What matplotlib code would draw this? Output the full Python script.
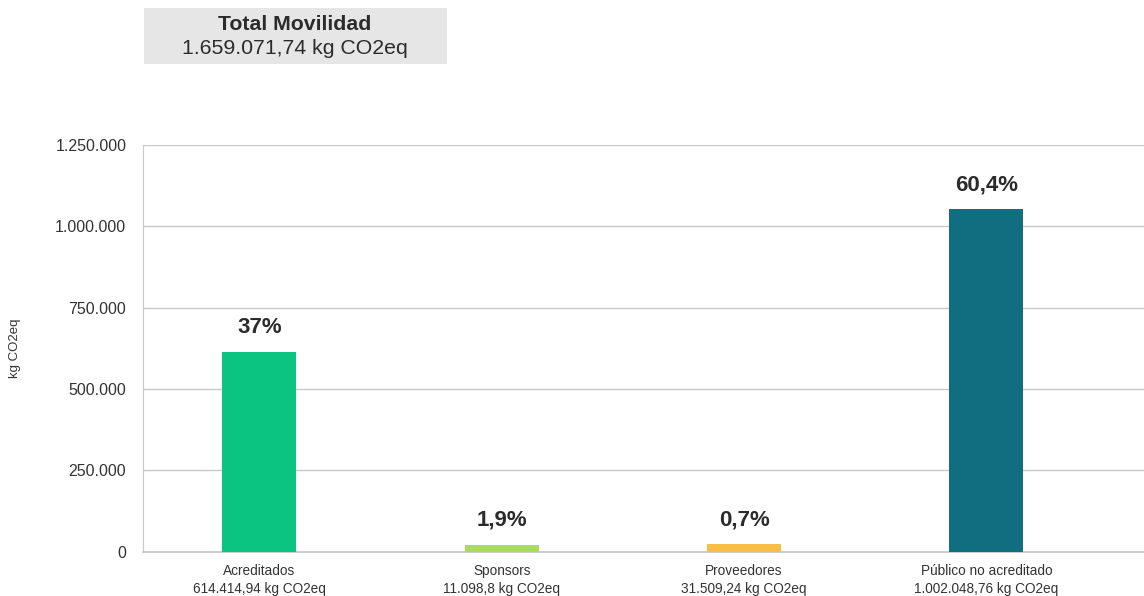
import matplotlib.pyplot as plt
from matplotlib.ticker import FuncFormatter

# data
categories = ['Acreditados', 'Sponsors', 'Proveedores', 'Público no acreditado']
value_labels = ['614.414,94 kg CO2eq', '11.098,8 kg CO2eq', '31.509,24 kg CO2eq', '1.002.048,76 kg CO2eq']
bar_values = [614415, 22000, 25000, 1053000]
pct_labels = ['37%', '1,9%', '0,7%', '60,4%']
bar_colors = ['#0cc482', '#a9db62', '#f9be45', '#116e80']
total_title = 'Total Movilidad'
total_value = '1.659.071,74 kg CO2eq'

plt.rcParams['font.family'] = ['Liberation Sans', 'DejaVu Sans']

fig = plt.figure(figsize=(11.44, 5.96), dpi=100)
ax = fig.add_axes([0.125, 0.074, 0.875, 0.683])

x = list(range(len(categories)))
ax.bar(x, bar_values, width=0.305, color=bar_colors, zorder=3)

ax.set_ylim(0, 1250000)
ax.set_xlim(-0.48, 3.65)
ax.set_yticks([0, 250000, 500000, 750000, 1000000, 1250000])
ax.yaxis.set_major_formatter(FuncFormatter(lambda v, p: f'{int(v):,}'.replace(',', '.')))
ax.grid(axis='y', color='#c8c8c8', linewidth=1, zorder=0)

# condensed look of the original: smaller regular font
ax.set_xticks(x)
ax.set_xticklabels([f'{c}\n{v}' for c, v in zip(categories, value_labels)],
                   fontsize=9.8, color='#333333', linespacing=1.35)
ax.tick_params(axis='x', length=0, pad=9)
ax.tick_params(axis='y', length=0, pad=12, labelsize=11.5, labelcolor='#333333')

for side in ['top', 'right']:
    ax.spines[side].set_visible(False)
ax.spines['left'].set_color('#c8c8c8')
ax.spines['bottom'].set_color('#c4c4cc')
ax.spines['bottom'].set_linewidth(1.2)

for xi, v, lab in zip(x, bar_values, pct_labels):
    ax.annotate(lab, (xi, v), xytext=(0, 13.5), textcoords='offset points',
                ha='center', va='baseline', fontsize=16, fontweight='bold', color='#2b2b2b')

fig.text(0.0135, 1 - 348 / 596, 'kg CO2eq', rotation=90, ha='center', va='center',
         fontsize=9.5, color='#333333')

# header box
fig.patches.append(plt.Rectangle((144 / 1144, 1 - 64 / 596), 303 / 1144, 56 / 596,
                                 transform=fig.transFigure, facecolor='#e6e6e6',
                                 edgecolor='none'))
fig.text(295 / 1144, 1 - 25 / 596, total_title, ha='center', va='center',
         fontsize=15.3, fontweight='bold', color='#2b2b2b')
fig.text(295 / 1144, 1 - 49 / 596, total_value, ha='center', va='center',
         fontsize=15.3, color='#2b2b2b')

fig.savefig('out.png', dpi=100)
